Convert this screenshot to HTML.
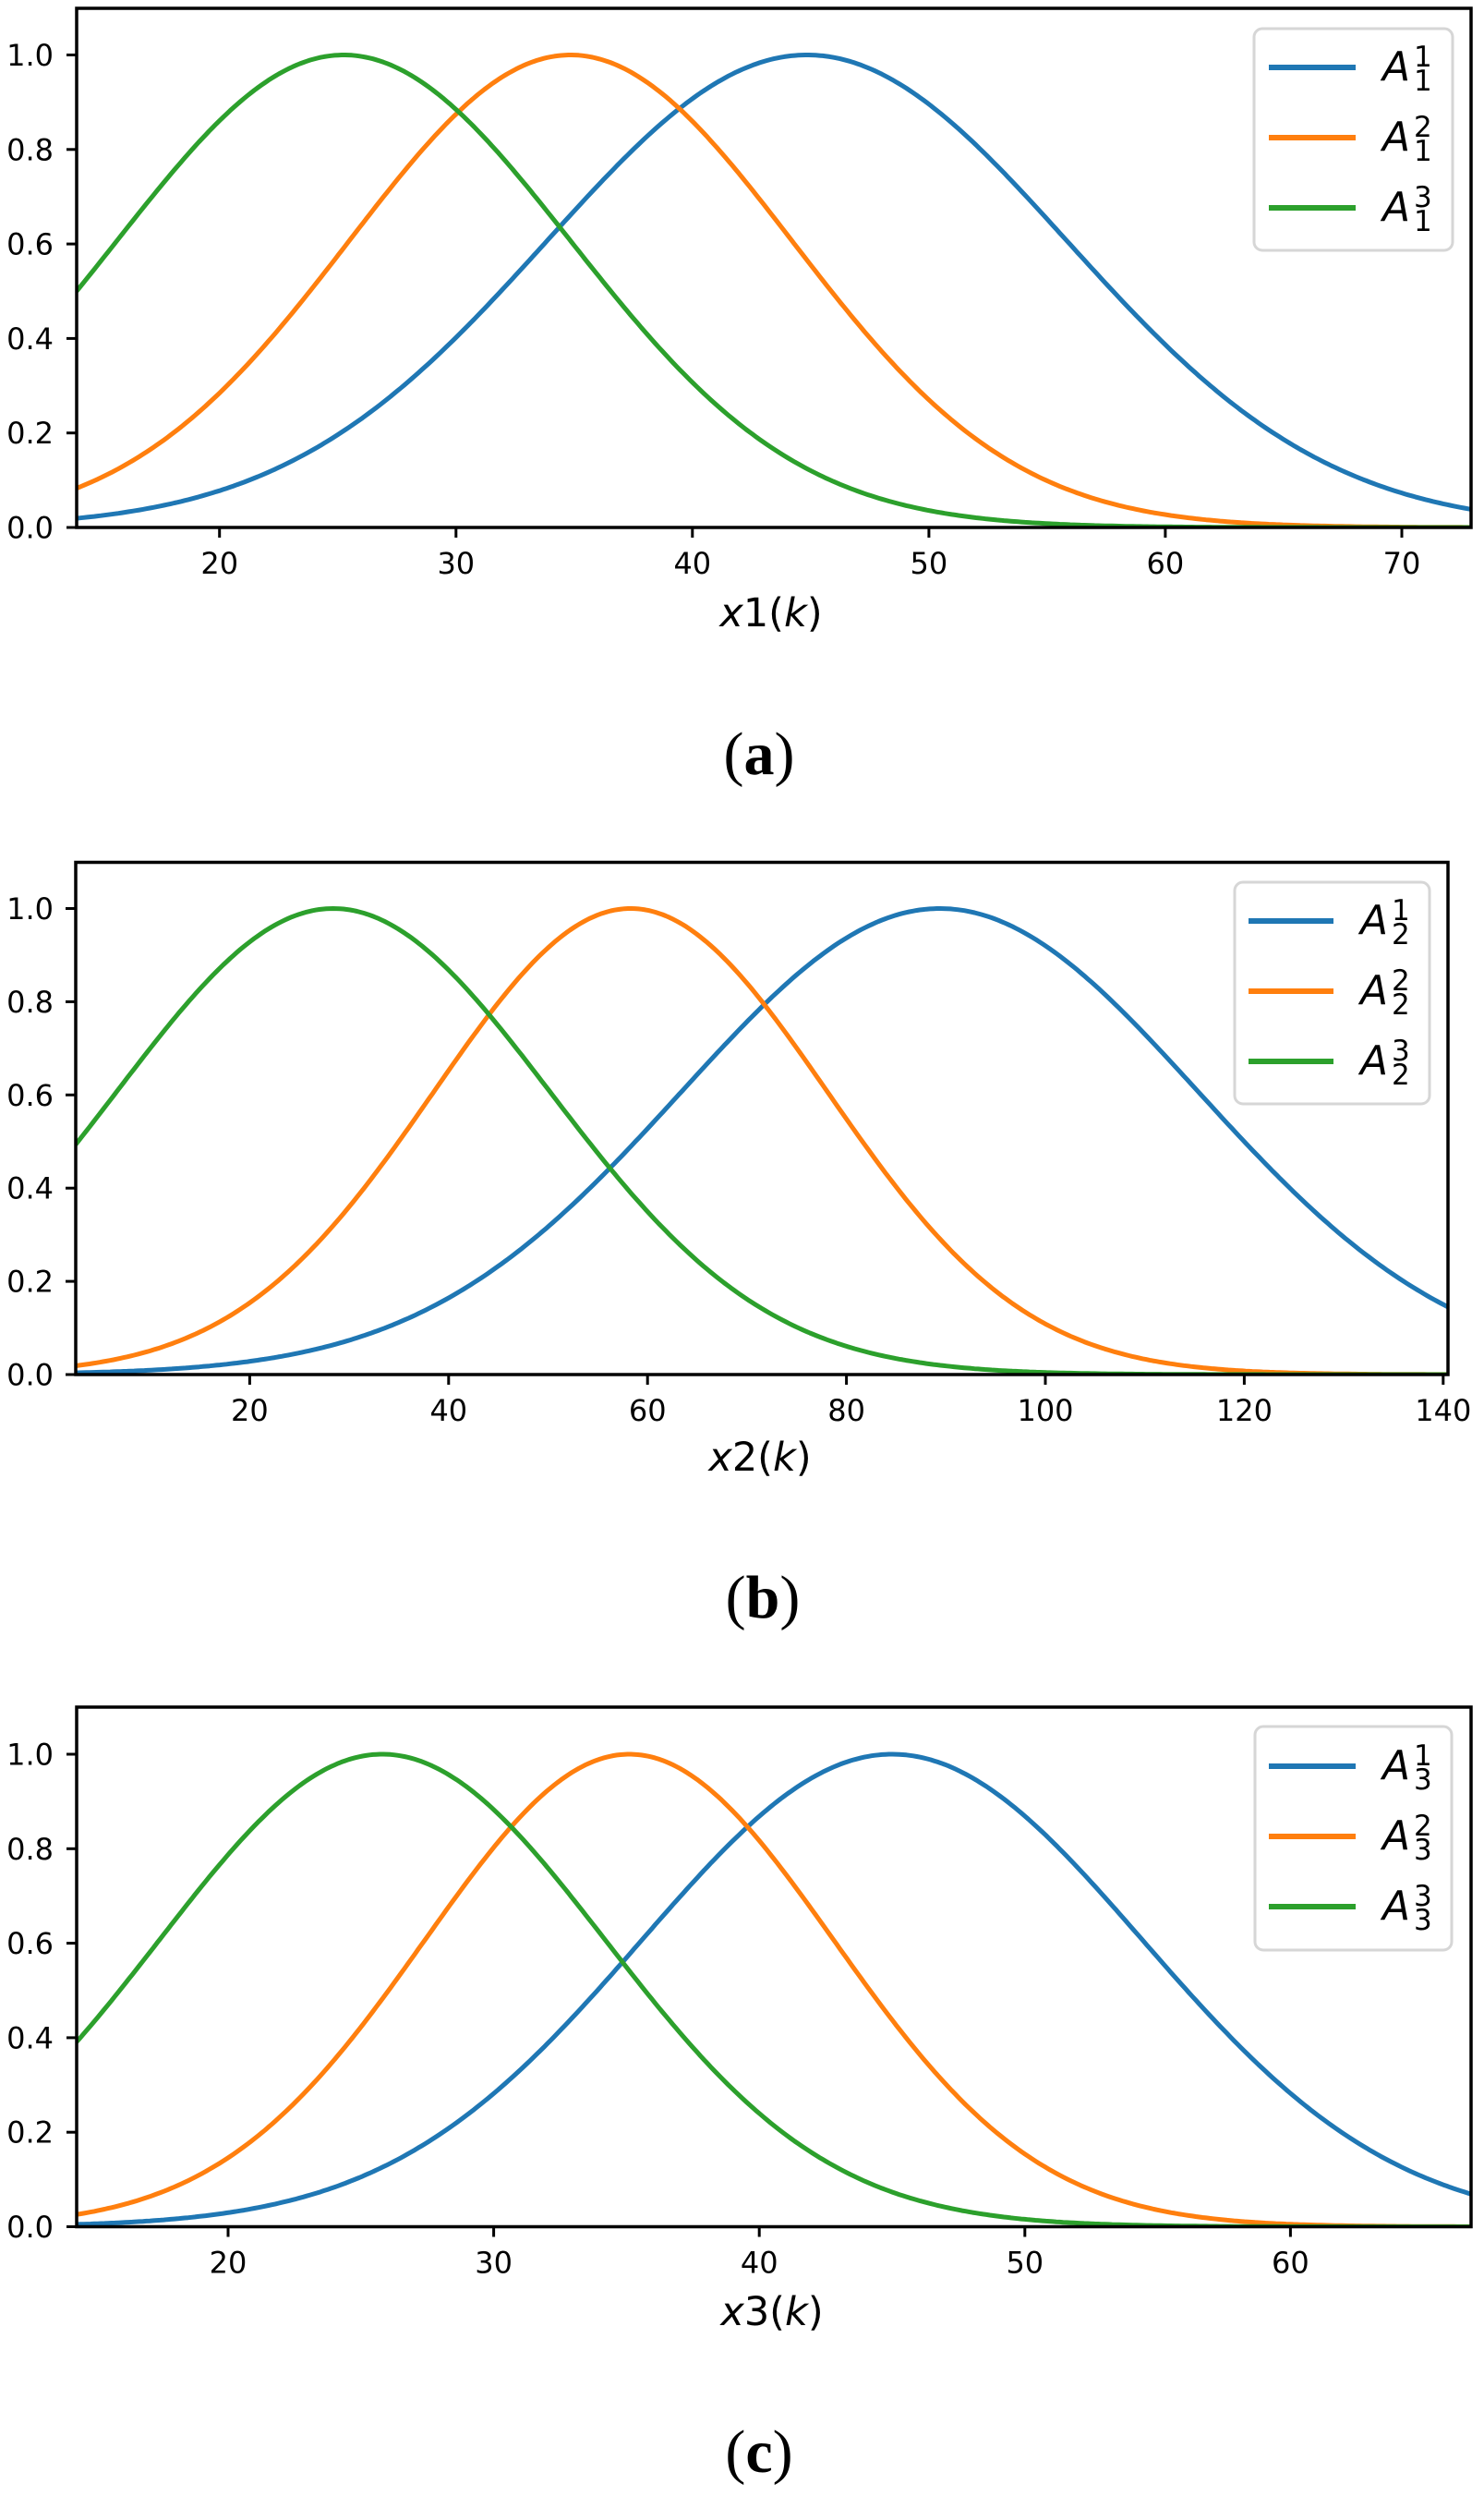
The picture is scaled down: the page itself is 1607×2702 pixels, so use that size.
<!DOCTYPE html>
<html><head><meta charset="utf-8"><style>
html,body{margin:0;padding:0;background:#fff;}
svg{display:block;}
.t{font-family:"DejaVu Sans","Liberation Sans",sans-serif;font-size:32px;fill:#000;}
.ty{text-anchor:end;}
.tx{text-anchor:middle;}
.lg{font-family:"DejaVu Sans","Liberation Sans",sans-serif;fill:#000;}
.xl{font-family:"DejaVu Sans","Liberation Sans",sans-serif;font-size:43px;text-anchor:middle;}
.cap{font-family:"Liberation Serif","DejaVu Serif",serif;font-size:66px;text-anchor:middle;}
</style></head><body>
<svg id="s" width="1607" height="2702" viewBox="0 0 1607 2702" xmlns="http://www.w3.org/2000/svg">
<rect width="1607" height="2702" fill="#fff"/>
<g id="curves"></g>
<g id="frames"></g>

<!-- Panel a labels -->
<g class="t ty">
<text x="58" y="582.5">0.0</text><text x="58" y="480.2">0.2</text><text x="58" y="377.9">0.4</text>
<text x="58" y="275.6">0.6</text><text x="58" y="173.3">0.8</text><text x="58" y="71">1.0</text>
</g>
<g class="t tx">
<text x="237.7" y="621">20</text><text x="493.8" y="621">30</text><text x="749.8" y="621">40</text>
<text x="1005.9" y="621">50</text><text x="1261.9" y="621">60</text><text x="1518" y="621">70</text>
</g>
<text class="xl" x="835" y="678"><tspan font-style="italic">x</tspan>1(<tspan font-style="italic">k</tspan>)</text>
<text class="cap" x="822" y="838">(<tspan font-weight="bold">a</tspan>)</text>

<!-- Panel b labels -->
<g class="t ty">
<text x="58" y="1499.5">0.0</text><text x="58" y="1398.6">0.2</text><text x="58" y="1297.7">0.4</text>
<text x="58" y="1196.8">0.6</text><text x="58" y="1095.9">0.8</text><text x="58" y="995">1.0</text>
</g>
<g class="t tx">
<text x="270.4" y="1538">20</text><text x="485.8" y="1538">40</text><text x="701.2" y="1538">60</text>
<text x="916.6" y="1538">80</text><text x="1132" y="1538">100</text><text x="1347.4" y="1538">120</text><text x="1562.8" y="1538">140</text>
</g>
<text class="xl" x="823" y="1592"><tspan font-style="italic">x</tspan>2(<tspan font-style="italic">k</tspan>)</text>
<text class="cap" x="826" y="1751">(<tspan font-weight="bold">b</tspan>)</text>

<!-- Panel c labels -->
<g class="t ty">
<text x="58" y="2422">0.0</text><text x="58" y="2319.7">0.2</text><text x="58" y="2217.4">0.4</text>
<text x="58" y="2115.1">0.6</text><text x="58" y="2012.8">0.8</text><text x="58" y="1910.5">1.0</text>
</g>
<g class="t tx">
<text x="247" y="2460.5">20</text><text x="534.6" y="2460.5">30</text><text x="822.2" y="2460.5">40</text>
<text x="1109.8" y="2460.5">50</text><text x="1397.4" y="2460.5">60</text>
</g>
<text class="xl" x="836" y="2517"><tspan font-style="italic">x</tspan>3(<tspan font-style="italic">k</tspan>)</text>
<text class="cap" x="822" y="2676">(<tspan font-weight="bold">c</tspan>)</text>

<!-- Legends -->
<g>
<rect x="1358" y="31" width="215" height="240" rx="9" fill="#fff" stroke="#d6d6d6" stroke-width="3"/>
<line x1="1374" y1="73" x2="1468" y2="73" stroke="#1f77b4" stroke-width="6"/>
<line x1="1374" y1="149" x2="1468" y2="149" stroke="#ff7f0e" stroke-width="6"/>
<line x1="1374" y1="225" x2="1468" y2="225" stroke="#2ca02c" stroke-width="6"/>
<g class="lg">
<text x="1497" y="87" font-size="44" font-style="italic">A</text><text x="1531" y="72" font-size="31">1</text><text x="1531" y="98" font-size="31">1</text>
<text x="1497" y="163" font-size="44" font-style="italic">A</text><text x="1531" y="148" font-size="31">2</text><text x="1531" y="174" font-size="31">1</text>
<text x="1497" y="239" font-size="44" font-style="italic">A</text><text x="1531" y="224" font-size="31">3</text><text x="1531" y="250" font-size="31">1</text>
</g>
</g>
<g>
<rect x="1337" y="955" width="211" height="240" rx="9" fill="#fff" stroke="#d6d6d6" stroke-width="3"/>
<line x1="1352" y1="997" x2="1444" y2="997" stroke="#1f77b4" stroke-width="6"/>
<line x1="1352" y1="1073" x2="1444" y2="1073" stroke="#ff7f0e" stroke-width="6"/>
<line x1="1352" y1="1149" x2="1444" y2="1149" stroke="#2ca02c" stroke-width="6"/>
<g class="lg">
<text x="1473" y="1011" font-size="44" font-style="italic">A</text><text x="1507" y="996" font-size="31">1</text><text x="1507" y="1022" font-size="31">2</text>
<text x="1473" y="1087" font-size="44" font-style="italic">A</text><text x="1507" y="1072" font-size="31">2</text><text x="1507" y="1098" font-size="31">2</text>
<text x="1473" y="1163" font-size="44" font-style="italic">A</text><text x="1507" y="1148" font-size="31">3</text><text x="1507" y="1174" font-size="31">2</text>
</g>
</g>
<g>
<rect x="1359" y="1869" width="213" height="242" rx="9" fill="#fff" stroke="#d6d6d6" stroke-width="3"/>
<line x1="1374" y1="1912" x2="1468" y2="1912" stroke="#1f77b4" stroke-width="6"/>
<line x1="1374" y1="1988" x2="1468" y2="1988" stroke="#ff7f0e" stroke-width="6"/>
<line x1="1374" y1="2064" x2="1468" y2="2064" stroke="#2ca02c" stroke-width="6"/>
<g class="lg">
<text x="1497" y="1926" font-size="44" font-style="italic">A</text><text x="1531" y="1911" font-size="31">1</text><text x="1531" y="1937" font-size="31">3</text>
<text x="1497" y="2002" font-size="44" font-style="italic">A</text><text x="1531" y="1987" font-size="31">2</text><text x="1531" y="2013" font-size="31">3</text>
<text x="1497" y="2078" font-size="44" font-style="italic">A</text><text x="1531" y="2063" font-size="31">3</text><text x="1531" y="2089" font-size="31">3</text>
</g>
</g>
</svg>
<script>
(function(){
var NS="http://www.w3.org/2000/svg";
var cols=["#1f77b4","#ff7f0e","#2ca02c"];
var P=[
 {L:83,R:1593,top:9,y0:571,s:511.5,x0:14,x1:73,xt:[237.7,493.8,749.8,1005.9,1261.9,1518],
  c:[[44.9,11.0],[34.9,9.37],[25.3,9.6]]},
 {L:82,R:1568,top:933.5,y0:1488,s:504.5,x0:2.5,x1:140.5,xt:[270.4,485.8,701.2,916.6,1132,1347.4,1562.8],
  c:[[89.4,26],[58.3,19.8],[28.4,21.8]]},
 {L:83,R:1593,top:1848,y0:2410.5,s:511.5,x0:14.29,x1:66.8,xt:[247,534.6,822.2,1109.8,1397.4],
  c:[[45,9.43],[35.1,7.7],[25.8,8.4]]}
];
var cg=document.getElementById("curves"),fg=document.getElementById("frames");
function el(n,a,p){var e=document.createElementNS(NS,n);for(var k in a)e.setAttribute(k,a[k]);p.appendChild(e);return e;}
P.forEach(function(p){
  var cp="cp"+Math.round(p.top);
  var defs=el("defs",{},cg);var clip=el("clipPath",{id:cp},defs);
  el("rect",{x:p.L,y:p.top,width:p.R-p.L,height:p.y0-p.top},clip);
  var g=el("g",{"clip-path":"url(#"+cp+")"},cg);
  p.c.forEach(function(c,i){
    var d="";var N=400;
    for(var j=0;j<=N;j++){var px=p.L+(p.R-p.L)*j/N;var x=p.x0+(p.x1-p.x0)*j/N;
      var v=Math.exp(-(x-c[0])*(x-c[0])/(2*c[1]*c[1]));var py=p.y0-v*p.s;
      d+=(j?"L":"M")+px.toFixed(1)+" "+py.toFixed(1);}
    el("path",{d:d,fill:"none",stroke:cols[i],"stroke-width":5,"stroke-linejoin":"round"},g);
  });
  el("rect",{x:p.L,y:p.top,width:p.R-p.L,height:p.y0-p.top,fill:"none",stroke:"#000","stroke-width":3.5},fg);
  for(var k=0;k<=5;k++){var y=p.y0-k*p.s*0.2;el("line",{x1:p.L-11,y1:y,x2:p.L,y2:y,stroke:"#000","stroke-width":3},fg);}
  p.xt.forEach(function(x){el("line",{x1:x,y1:p.y0,x2:x,y2:p.y0+11,stroke:"#000","stroke-width":3},fg);});
});
})();
</script>
</body></html>
